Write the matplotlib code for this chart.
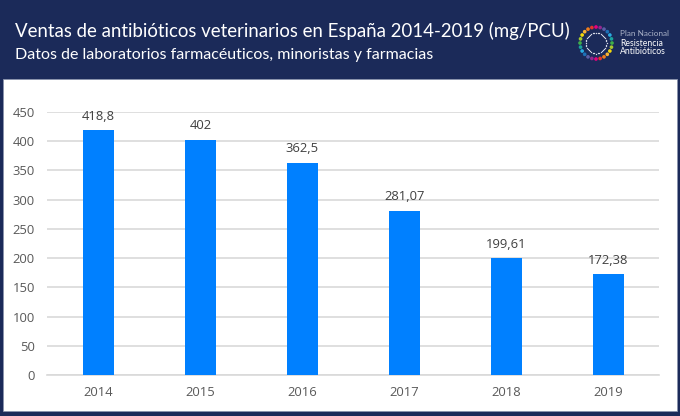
import numpy as np
from matplotlib import pyplot as plt
from matplotlib.patches import Rectangle

years = ['2014', '2015', '2016', '2017', '2018', '2019']
ventas = [418.8, 402, 362.5, 281.07, 199.61, 172.38]
etiquetas = ['418,8', '402', '362,5', '281,07', '199,61', '172,38']
yticks = [0, 50, 100, 150, 200, 250, 300, 350, 400, 450]
logo_colors = ['#e6007e', '#e4352b', '#f07d1a', '#f9b233', '#f5d90a', '#a8c92f', '#3fae49', '#1ba39c',
               '#29abe2', '#1d71b8', '#5b5ea6', '#93278f']

W, H = 680, 416
navy = '#1b2a59'

fig = plt.figure(figsize=(W / 100, H / 100), dpi=100, facecolor=navy)
fig.patches.append(Rectangle((3 / W, 1 - 411 / H), 674 / W, 332 / H, transform=fig.transFigure,
                             facecolor='white', edgecolor='#8a93ad', linewidth=0.6, zorder=-1))

ax = fig.add_axes([47.4 / W, 1 - 375 / H, 612 / W, 263 / H])
ax.set_facecolor('none')
x = np.arange(len(years))
ax.bar(x, ventas, width=0.31, color='#0080ff', zorder=3)
ax.set_xlim(-0.5, 5.5)
ax.set_ylim(0, 450)
ax.set_xticks(x, years)
ax.set_yticks(yticks)
ax.grid(axis='y', color='#d9d9d9', linewidth=1.2, zorder=0)
ax.tick_params(length=0, labelsize=9.4, labelcolor='#595959', labelfontfamily='Open Sans')
ax.tick_params(axis='x', pad=8)
ax.tick_params(axis='y', pad=9)
for s in ['top', 'right', 'left']:
    ax.spines[s].set_visible(False)
ax.spines['bottom'].set_color('#d9d9d9')
ax.spines['bottom'].set_linewidth(1.2)

for xi, v, t in zip(x, ventas, etiquetas):
    ax.annotate(t, (xi, v), xytext=(0, 5.5), textcoords='offset points', ha='center', va='bottom',
                fontsize=9.4, color='#404040', family='Open Sans', zorder=4)

fig.text(15 / W, 1 - 31 / H, 'Ventas de antibióticos veterinarios en España 2014-2019 (mg/PCU)',
         color='white', fontsize=13.45, family='Lato', va='center')
fig.text(15 / W, 1 - 55 / H, 'Datos de laboratorios farmacéuticos, minoristas y farmacias',
         color='white', fontsize=11.5, family='Lato', va='center')

# logo
logo = fig.add_axes([576 / W, 1 - 63 / H, 40 / W, 40 / H])
logo.set_xlim(-20, 20)
logo.set_ylim(-20, 20)
logo.axis('off')
ang = np.linspace(-90, 270, 24, endpoint=False)
cols = [logo_colors[i % len(logo_colors)] for i in range(24)]
logo.scatter(16 * np.cos(np.radians(ang)), 16 * np.sin(np.radians(ang)), s=7, c=cols, linewidths=0)
ang2 = np.linspace(0, 360, 40, endpoint=False)
logo.scatter(10.5 * np.cos(np.radians(ang2)), 10.5 * np.sin(np.radians(ang2)), s=1, c='#d5d9e6', linewidths=0)

fig.text(620 / W, 1 - 33 / H, 'Plan Nacional', color='#aab2c8', fontsize=5.9, family='Lato', va='center')
fig.text(620 / W, 1 - 43 / H, 'Resistencia', color='white', fontsize=6.2, family='Lato', va='center')
fig.text(620 / W, 1 - 51 / H, 'Antibióticos', color='white', fontsize=6.2, family='Lato', va='center')

fig.savefig('out.png', dpi=100, facecolor=fig.get_facecolor())
